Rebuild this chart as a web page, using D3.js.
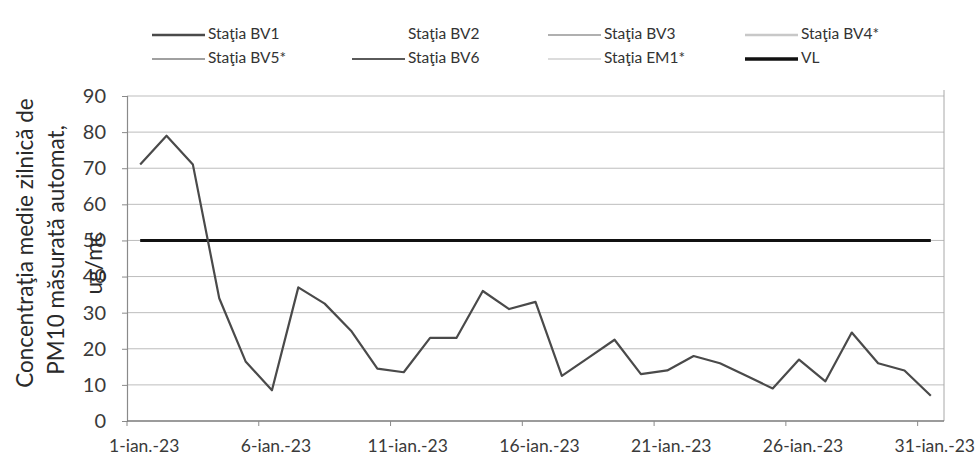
<!DOCTYPE html>
<html>
<head>
<meta charset="utf-8">
<script src="https://cdn.jsdelivr.net/npm/d3@7"></script>
<style>
  html, body { margin: 0; padding: 0; background: #ffffff; }
  svg { display: block; }
</style>
</head>
<body>
<svg id="chart" width="976" height="461"></svg>
<script>
// ---- data ----
const days = d3.range(1, 32);
const dayLabels = ["1-ian.-23", "6-ian.-23", "11-ian.-23", "16-ian.-23", "21-ian.-23", "26-ian.-23", "31-ian.-23"];
const labelDays = [1, 6, 11, 16, 21, 26, 31];
const pm10Values = [71, 79, 71, 34, 16.5, 8.5, 37, 32.5, 25, 14.5, 13.5, 23, 23, 36, 31, 33,
                    12.5, 17.5, 22.5, 13, 14, 18, 16, 12.5, 9, 17, 11, 24.5, 16, 14, 7];
const limitValue = 50;
const yTicks = [0, 10, 20, 30, 40, 50, 60, 70, 80, 90];
const legendNames = ["Staţia BV1", "Staţia BV2", "Staţia BV3", "Staţia BV4*",
                     "Staţia BV5*", "Staţia BV6", "Staţia EM1*", "VL"];
const legendColors = ["#4a4a4a", "#ffffff", "#b0b0b0", "#c8c8c8",
                      "#a0a0a0", "#5a5a5a", "#dcdcdc", "#111111"];
const legendWidths = [2.5, 2, 2, 2.5, 2, 2, 2, 3.5];
const titleLines = ["Concentraţia medie zilnică de", "PM10 măsurată automat,", "ug/mc"];

// ---- layout ----
const svg = d3.select("#chart");
const font = "Lato, 'Open Sans', 'Liberation Sans', sans-serif";
const plot = { left: 127, right: 944, top: 96, bottom: 421 };

const x = d3.scaleBand().domain(days).range([plot.left, plot.right]).paddingInner(0).paddingOuter(0);
const cx = d => x(d) + x.bandwidth() / 2;
const y = d3.scaleLinear().domain([0, 90]).range([plot.bottom, plot.top]);

// gridlines
svg.append("g").selectAll("line")
  .data(yTicks.filter(v => v > 0))
  .join("line")
  .attr("x1", plot.left).attr("x2", plot.right)
  .attr("y1", d => y(d)).attr("y2", d => y(d))
  .attr("stroke", "#bdbdbd").attr("stroke-width", 1);

// right border
svg.append("line")
  .attr("x1", plot.right).attr("x2", plot.right)
  .attr("y1", plot.top - 6).attr("y2", plot.bottom)
  .attr("stroke", "#a8a8a8").attr("stroke-width", 1);

// y axis
const yAxis = svg.append("g")
  .attr("transform", `translate(${plot.left},0)`)
  .call(d3.axisLeft(y).tickValues(yTicks).tickSize(5).tickPadding(16).tickFormat(d3.format("d")));
yAxis.select(".domain").attr("stroke", "#8a8a8a").attr("stroke-width", 1.2);
yAxis.selectAll(".tick line").attr("stroke", "#8a8a8a");
yAxis.selectAll("text").attr("font-family", font).attr("font-size", 20).attr("fill", "#3a3a3a");

// x axis line
svg.append("line")
  .attr("x1", plot.left).attr("x2", plot.right)
  .attr("y1", y(0)).attr("y2", y(0))
  .attr("stroke", "#7a7a7a").attr("stroke-width", 1.3);

// x ticks at left edge of labelled day bins
svg.append("g").selectAll("line")
  .data(labelDays)
  .join("line")
  .attr("x1", d => x(d)).attr("x2", d => x(d))
  .attr("y1", y(0)).attr("y2", y(0) + 5)
  .attr("stroke", "#8a8a8a");

// x labels
svg.append("g").selectAll("text")
  .data(labelDays)
  .join("text")
  .attr("x", d => cx(d) + 4)
  .attr("y", y(0) + 31)
  .attr("text-anchor", "middle")
  .attr("font-family", font).attr("font-size", 17.5).attr("fill", "#3a3a3a")
  .text((d, i) => dayLabels[i]);

// limit value line
svg.append("line")
  .attr("x1", cx(days[0])).attr("x2", cx(days[days.length - 1]))
  .attr("y1", y(limitValue)).attr("y2", y(limitValue))
  .attr("stroke", "#111").attr("stroke-width", 3);

// data line
const line = d3.line().x((d, i) => cx(days[i])).y(d => y(d));
svg.append("path")
  .datum(pm10Values)
  .attr("d", line)
  .attr("fill", "none")
  .attr("stroke", "#4a4a4a")
  .attr("stroke-width", 2.2)
  .attr("stroke-linejoin", "round");

// y title
const titleX = [27, 58, 96];
const titleY = [243, 250, 263];
svg.append("g").selectAll("text")
  .data(titleLines)
  .join("text")
  .attr("transform", (d, i) => `translate(${titleX[i]},${titleY[i]}) rotate(-90)`)
  .attr("text-anchor", "middle")
  .attr("dominant-baseline", "middle")
  .attr("font-family", font).attr("font-size", 22.5).attr("fill", "#2a2a2a")
  .text(d => d);

// legend
const colX = [152, 352, 548, 745];
const rowY = [35, 59];
const leg = svg.append("g").selectAll("g")
  .data(legendNames)
  .join("g")
  .attr("transform", (d, i) => `translate(${colX[i % 4]},${rowY[Math.floor(i / 4)]})`);
leg.append("line")
  .attr("x1", 0).attr("x2", 53).attr("y1", 0).attr("y2", 0)
  .attr("stroke", (d, i) => legendColors[i])
  .attr("stroke-width", (d, i) => legendWidths[i]);
leg.append("text")
  .attr("x", 56).attr("y", 0)
  .attr("dominant-baseline", "middle")
  .attr("font-family", font).attr("font-size", 15.5).attr("fill", "#333")
  .text(d => d);
</script>
</body>
</html>
